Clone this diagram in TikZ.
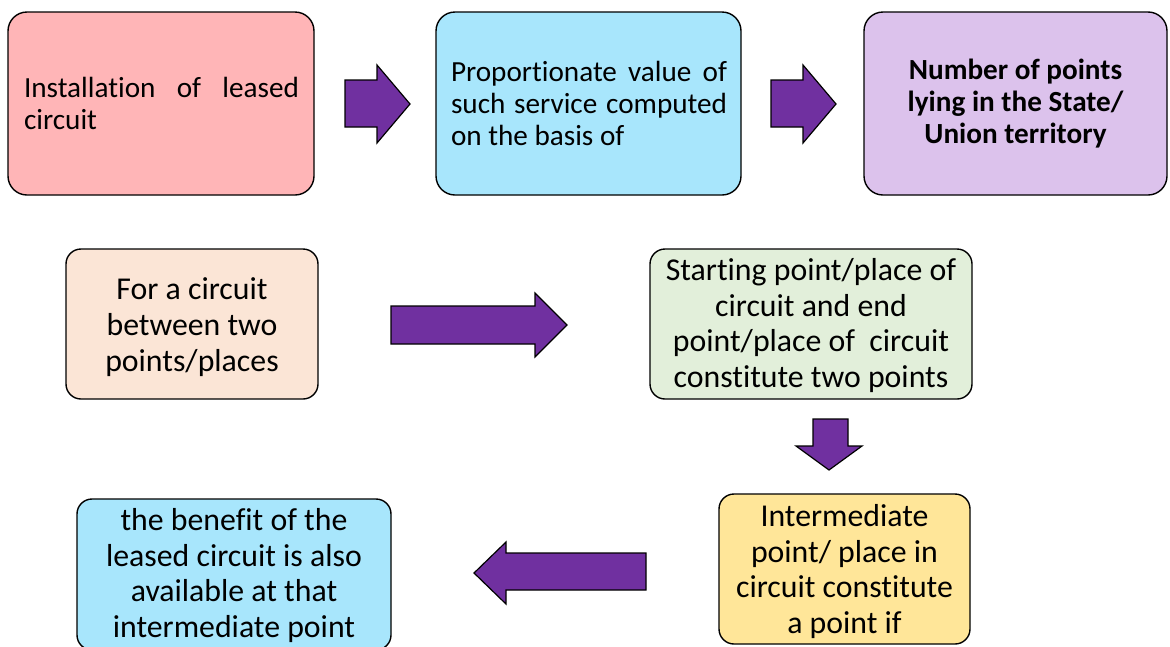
\documentclass[tikz,border=0pt]{standalone}
\usepackage{fontspec}
\setmainfont{Carlito}[Ligatures={NoCommon,NoContextual,NoRare}, Contextuals={NoAlternate}]
\usetikzlibrary{calc}
\definecolor{cpink}{RGB}{255,181,183}
\definecolor{ccyan}{RGB}{168,230,252}
\definecolor{clav}{RGB}{220,194,236}
\definecolor{cpeach}{RGB}{251,229,214}
\definecolor{cgreen}{RGB}{226,239,218}
\definecolor{cyell}{RGB}{255,230,153}
\definecolor{cpurp}{RGB}{112,48,160}
\tikzset{
  topbox/.style={draw=black, line width=1.4pt, rounded corners=19pt, inner sep=0pt,
    minimum height=183pt, font=\fontsize{29.2}{32}\selectfont},
  toptext/.style={inner sep=0pt, align=justify, font=\fontsize{29.2}{32}\selectfont},
  lowbox/.style={draw=black, line width=1.4pt, rounded corners=15pt, inner sep=0pt,
    minimum height=150pt},
  lowtext/.style={inner sep=0pt, align=center, font=\fontsize{31.8}{35.8}\selectfont},
  blockarrow/.style={draw=black, line width=1.2pt, fill=cpurp, line join=miter}
}
\begin{document}
\begin{tikzpicture}[x=1pt,y=-1pt]
\useasboundingbox (0,0) rectangle (1170,646);
% top row
\node[topbox, fill=cpink, minimum width=306pt] (b1) at (161,103.5) {};
\node[toptext, text width=275pt] (t1) at (161.5,103.5)
  {Installation of leased\linebreak circuit};
\node[topbox, fill=ccyan, minimum width=305pt] (b2) at (588.5,103.5) {};
\node[toptext, text width=276pt] (t2) at (589,103.5)
  {Proportionate value of\linebreak such service computed\linebreak on the basis of};
\node[topbox, fill=clav, minimum width=303pt, align=center, font=\fontsize{29.2}{32}\selectfont\bfseries] (b3) at (1015.5,103.5)
  {Number of points\\lying in the State/\\Union territory};
% second row
\node[lowbox, fill=cpeach, minimum width=252pt] (b4) at (192,324) {};
\node[lowtext] (t4) at ($(b4.center)+(0,3)$) {For a circuit\\between two\\points/places};
\node[lowbox, fill=cgreen, minimum width=322pt] (b5) at (811,324) {};
\node[lowtext] (t5) at ($(b5.center)+(0,1.5)$) {Starting point/place of\\circuit and end\\point/place of\ \ circuit\\constitute two points};
% third row
\node[lowbox, fill=cyell, minimum width=251pt] (b7) at (844.5,569) {};
\node[lowtext] (t7) at ($(b7.center)+(0,2.5)$) {Intermediate\\point/ place in\\circuit constitute\\a point if};
\node[lowbox, fill=ccyan, minimum width=314pt, minimum height=151pt] (b6) at (234,574.5) {};
\node[lowtext] (t6) at ($(b6.center)+(0,1)$) {the benefit of the\\leased circuit is also\\available at that\\intermediate point};
% block arrows
\draw[blockarrow] (345,80) -- (377,80) -- (377,65) -- (410,104) -- (377,143) -- (377,127) -- (345,127) -- cycle;
\draw[blockarrow] (771,80) -- (803,80) -- (803,65) -- (836,104) -- (803,143) -- (803,127) -- (771,127) -- cycle;
\draw[blockarrow] (391,306) -- (535,306) -- (535,293) -- (567,325) -- (535,357) -- (535,344) -- (391,344) -- cycle;
\draw[blockarrow] (813,419) -- (848,419) -- (848,446) -- (862,446) -- (829,470) -- (796,446) -- (813,446) -- cycle;
\draw[blockarrow] (646,553) -- (506,553) -- (506,542) -- (474,573) -- (506,604) -- (506,590) -- (646,590) -- cycle;
\end{tikzpicture}
\end{document}
